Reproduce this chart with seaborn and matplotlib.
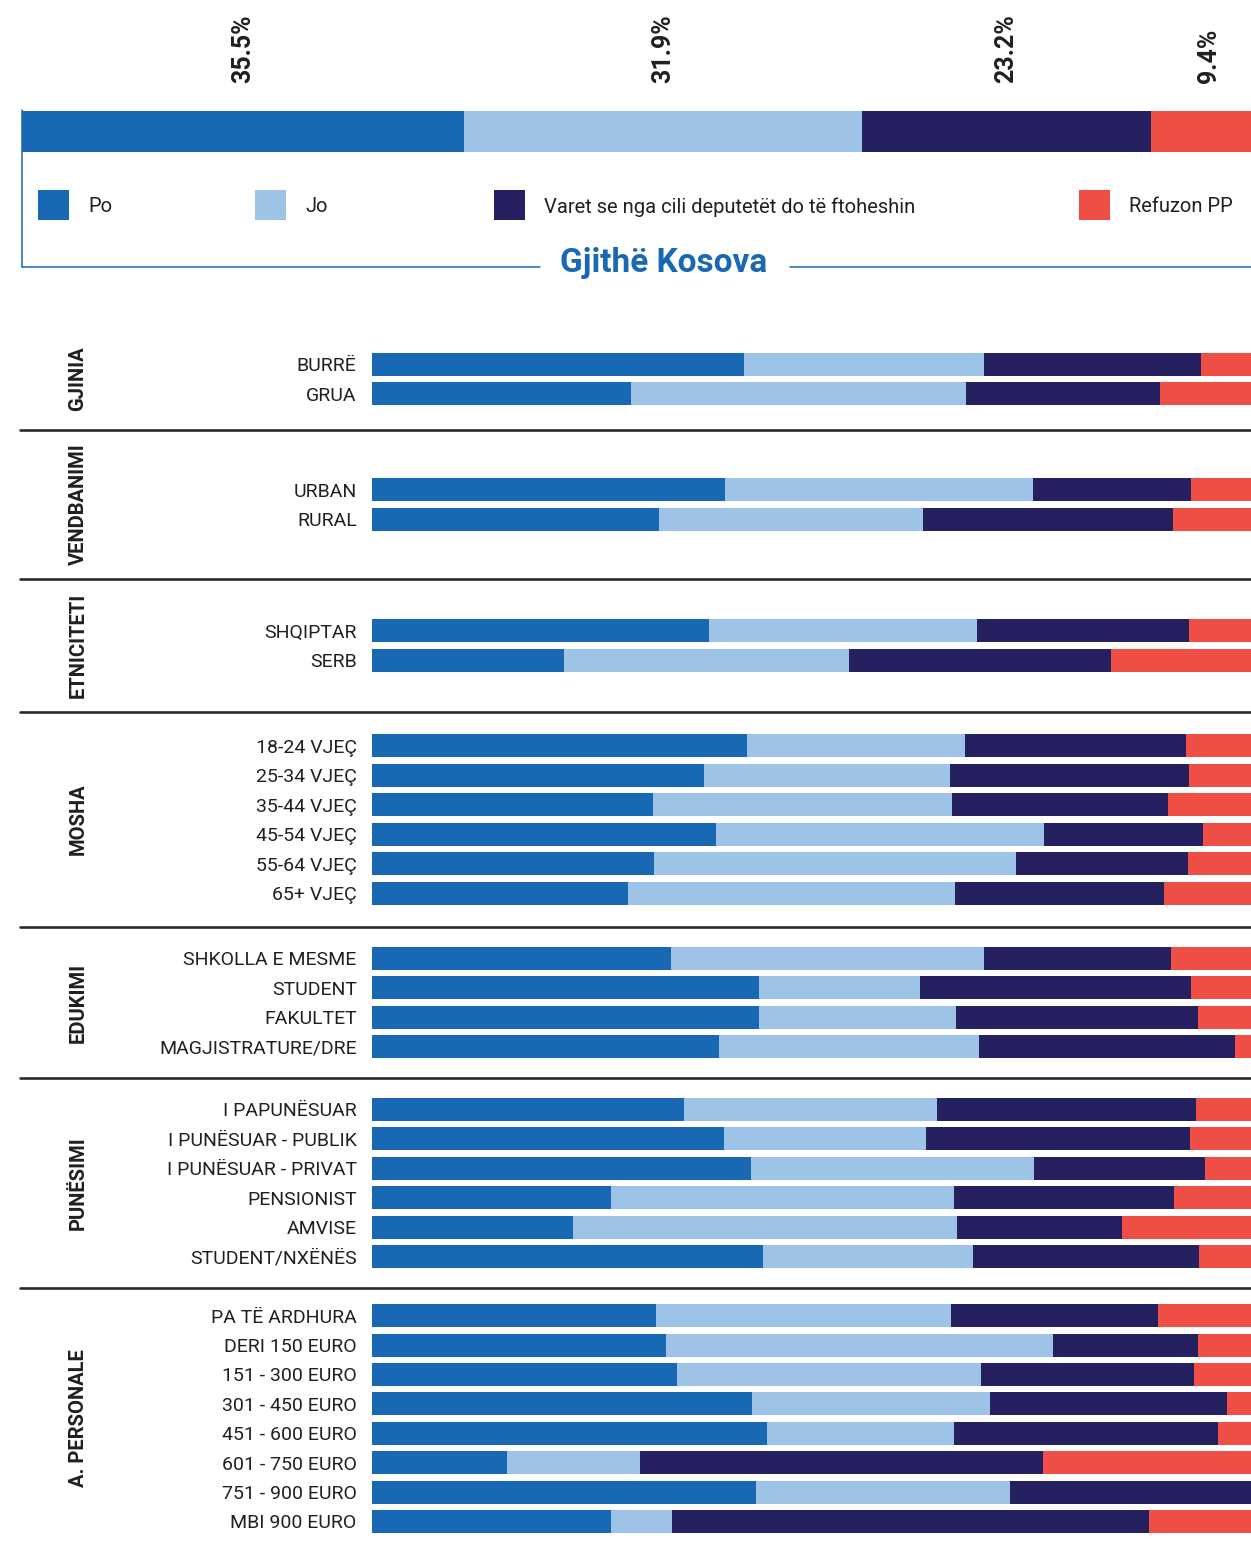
import numpy as np
import pandas as pd
import matplotlib
matplotlib.use("Agg")
import matplotlib.pyplot as plt
from matplotlib.lines import Line2D
from matplotlib.patches import Rectangle
import matplotlib.transforms as mtransforms
import seaborn as sns

# ---------------- data ----------------
series_names = ["Po", "Jo", "Varet se nga cili deputetët do të ftoheshin", "Refuzon PP"]
series_colors = ["#1968B3", "#9DC3E6", "#252060", "#EF4E45"]

total_title = "Gjithë Kosova"
total_values = [35.5, 31.9, 23.2, 9.4]

group_names = ["GJINIA", "VENDBANIMI", "ETNICITETI", "MOSHA", "EDUKIMI", "PUNËSIMI", "A. PERSONALE"]
group_sizes = [2, 2, 2, 6, 4, 6, 8]

row_labels = [
    "BURRË", "GRUA",
    "URBAN", "RURAL",
    "SHQIPTAR", "SERB",
    "18-24 VJEÇ", "25-34 VJEÇ", "35-44 VJEÇ", "45-54 VJEÇ", "55-64 VJEÇ", "65+ VJEÇ",
    "SHKOLLA E MESME", "STUDENT", "FAKULTET", "MAGJISTRATURE/DRE",
    "I PAPUNËSUAR", "I PUNËSUAR - PUBLIK", "I PUNËSUAR - PRIVAT", "PENSIONIST", "AMVISE", "STUDENT/NXËNËS",
    "PA TË ARDHURA", "DERI 150 EURO", "151 - 300 EURO", "301 - 450 EURO", "451 - 600 EURO",
    "601 - 750 EURO", "751 - 900 EURO", "MBI 900 EURO",
]
po = [42.3, 29.5, 40.2, 32.7, 38.3, 21.8, 42.7, 37.8, 32.0, 39.1, 32.1, 29.1, 34.0, 44.0, 44.0, 39.5,
      35.5, 40.0, 43.1, 27.2, 22.9, 44.5, 32.3, 33.4, 34.7, 43.2, 44.9, 15.4, 43.7, 27.2]
jo = [27.3, 38.1, 35.0, 30.0, 30.5, 32.5, 24.8, 27.9, 34.0, 37.3, 41.2, 37.2, 35.6, 18.4, 22.4, 29.5,
      28.8, 23.0, 32.2, 39.0, 43.6, 23.9, 33.6, 44.1, 34.6, 27.1, 21.3, 15.1, 28.9, 6.9]
varet = [24.7, 22.1, 18.0, 28.4, 24.1, 29.8, 25.1, 27.2, 24.6, 18.1, 19.5, 23.8, 21.3, 30.8, 27.6, 29.2,
         29.4, 30.1, 19.5, 25.0, 18.8, 25.7, 23.5, 16.5, 24.2, 27.0, 30.1, 45.8, 27.4, 54.3]
refuzon = [5.7, 10.3, 6.8, 8.9, 7.1, 15.9, 7.4, 7.1, 9.4, 5.5, 7.2, 9.9, 9.1, 6.8, 6.0, 1.8,
           6.3, 6.9, 5.2, 8.8, 14.7, 5.9, 10.6, 6.0, 6.5, 2.7, 3.7, 23.7, 0.0, 11.6]

# ---------------- style ----------------
sns.set_theme(style="white")
plt.rcParams["font.family"] = ["Roboto", "DejaVu Sans"]
TXT = "#231F20"
BLUE = "#1968B3"

W, H = 1251, 1542
fig = plt.figure(figsize=(W / 100, H / 100), dpi=100)
fig.patch.set_facecolor("white")


def fx(x):
    return x / W


def fy(y):
    return 1 - y / H


def stacked(ax, labels, cols, width):
    df = pd.DataFrame({n: c for n, c in zip(series_names, cols)})
    df["label"] = labels
    cum = df[series_names].cumsum(axis=1)
    for name, color in reversed(list(zip(series_names, series_colors))):
        sns.barplot(x=cum[name].values, y=df["label"].values, orient="h", color=color,
                    width=width, saturation=1, linewidth=0, ax=ax)


# ---------------- top overall bar ----------------
bar_left, bar_right_total = 22, 1268
ax0 = fig.add_axes([fx(bar_left), fy(152), fx(bar_right_total - bar_left), (152 - 111) / H])
stacked(ax0, [total_title], [[v] for v in total_values], 1.0)
ax0.set_xlim(0, 100)
ax0.set_ylim(0.5, -0.5)
ax0.axis("off")
blend = mtransforms.blended_transform_factory(ax0.transData, ax0.transAxes)
cum_prev = 0
for v in total_values:
    ax0.annotate(f"{v}%", xy=(cum_prev + v / 2, 1), xycoords=blend, xytext=(0, 20),
                 textcoords="offset points", rotation=90, ha="center", va="bottom",
                 fontsize=18, fontweight="bold", color=TXT)
    cum_prev += v

# legend frame
fig.add_artist(Line2D([fx(22), fx(22)], [fy(110), fy(267)], color=BLUE, lw=1.1))
fig.add_artist(Line2D([fx(22), fx(540)], [fy(267), fy(267)], color=BLUE, lw=1.1))
fig.add_artist(Line2D([fx(790), fx(1251)], [fy(267), fy(267)], color=BLUE, lw=1.1))
fig.text(fx(664), fy(263), total_title, ha="center", va="center", fontsize=24,
         fontweight="bold", color=BLUE)

# legend entries
leg_x = [38, 255, 494, 1079]
for name, color, x in zip(series_names, series_colors, leg_x):
    fig.add_artist(Rectangle((fx(x), fy(220)), fx(31), 30 / H, transform=fig.transFigure,
                             facecolor=color, edgecolor="none"))
    fig.text(fx(x + 50), fy(207), name, ha="left", va="center", fontsize=14.5, color=TXT)

# ---------------- group panels ----------------
bounds = [328, 430, 579, 712, 927, 1078, 1288, 1549]
row_px = 29.4
bar_h = 23 / row_px
start = 0
for gi, (gname, n) in enumerate(zip(group_names, group_sizes)):
    top, bot = bounds[gi], bounds[gi + 1]
    sl = slice(start, start + n)
    start += n
    ax = fig.add_axes([fx(372), fy(bot), fx(1251 - 372), (bot - top) / H])
    stacked(ax, row_labels[sl], [po[sl], jo[sl], varet[sl], refuzon[sl]], bar_h)
    half = (bot - top) / 2 / row_px
    c = (n - 1) / 2
    ax.set_xlim(0, 100)
    ax.set_ylim(c + half, c - half)
    for s in ax.spines.values():
        s.set_visible(False)
    ax.set_xticks([])
    ax.set_xlabel("")
    ax.set_ylabel("")
    ax.tick_params(axis="y", length=0, pad=11, labelsize=14, labelcolor=TXT)
    ax.set_facecolor("none")
    fig.text(fx(78), fy((top + bot) / 2), gname, rotation=90, ha="center", va="center",
             fontsize=14.5, fontweight="bold", color=TXT)

for y in bounds[1:-1]:
    fig.add_artist(Line2D([fx(20), fx(1251)], [fy(y), fy(y)], color="#2b2b2b", lw=1.9))

fig.savefig("out.png", dpi=100, facecolor="white")
